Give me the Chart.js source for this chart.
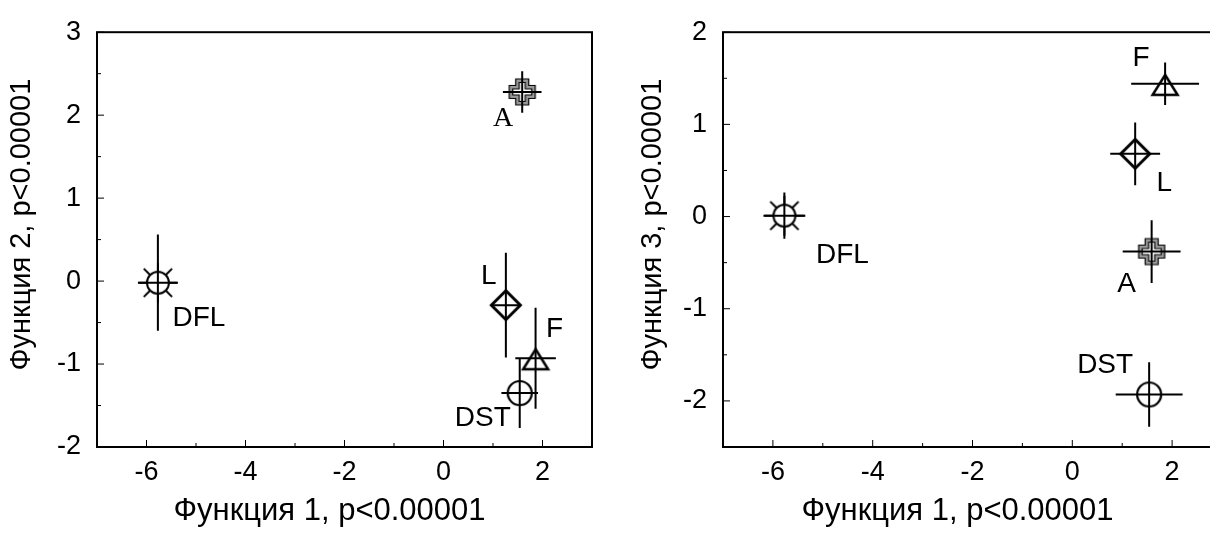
<!DOCTYPE html>
<html>
<head>
<meta charset="utf-8">
<script src="https://cdn.jsdelivr.net/npm/chart.js@4.4.0/dist/chart.umd.min.js"></script>
<style>
html, body { margin: 0; padding: 0; background: #fff; overflow: hidden; }
#wrap { position: relative; width: 1210px; height: 534px; overflow: hidden; }
#c1 { position: absolute; left: 0; top: 0; }
#c2 { position: absolute; left: 610px; top: 0; }
</style>
</head>
<body>
<div id="wrap">
	<canvas id="c1" width="605" height="534"></canvas>
	<canvas id="c2" width="625" height="534"></canvas>
</div>
<script>
// group centroids, discriminant functions
var groups = ['DFL', 'A', 'L', 'F', 'DST'];
var func1 = [-5.77, 1.59, 1.26, 1.86, 1.54];
var func1ErrLeft = [0.39, 0.39, 0.30, 0.41, 0.37];
var func1ErrRight = [0.42, 0.58, 0.50, 0.68, 0.67];
var func2 = [-0.02, 2.28, -0.29, -0.93, -1.35];
var func2Err = [0.58, 0.25, 0.63, 0.61, 0.42];
var func3 = [0.01, -0.38, 0.68, 1.44, -1.93];
var func3Err = [0.25, 0.34, 0.34, 0.23, 0.35];
var xRange = [-7, 3];
var yRangeLeft = [-2, 3];
var yRangeRight = [-2.5, 2];

var FONT = '"Liberation Sans", Arial, sans-serif';
var SERIF = '"Liberation Serif", "Times New Roman", serif';
var TICK_SIZE = 27;
var XTITLE_SIZE = 31;
var YTITLE_SIZE = 29;
var LABEL_SIZE = 28;

// marker glyphs
var makeMarker = function(kind) {
	var c = document.createElement('canvas');
	c.width = 48; c.height = 48;
	var g = c.getContext('2d');
	g.translate(24, 24);
	g.strokeStyle = '#000';
	g.lineJoin = 'miter';
	if (kind === 'sun') {
		g.lineWidth = 2;
		for (var k = 0; k < 8; k++) {
			var a = k * Math.PI / 4;
			g.beginPath();
			g.moveTo(Math.cos(a) * 11, Math.sin(a) * 11);
			g.lineTo(Math.cos(a) * 20, Math.sin(a) * 20);
			g.stroke();
		}
		g.beginPath();
		g.arc(0, 0, 11, 0, Math.PI * 2);
		g.fillStyle = '#fff';
		g.fill();
		g.stroke();
	} else if (kind === 'cross') {
		var crossPath = function(a, b) {
			g.beginPath();
			g.moveTo(-b, -a); g.lineTo(b, -a); g.lineTo(b, -b); g.lineTo(a, -b);
			g.lineTo(a, b); g.lineTo(b, b); g.lineTo(b, a); g.lineTo(-b, a);
			g.lineTo(-b, b); g.lineTo(-a, b); g.lineTo(-a, -b); g.lineTo(-b, -b);
			g.closePath();
		};
		g.lineWidth = 1.2;
		crossPath(13, 6.5);
		g.fillStyle = '#9a9a9a';
		g.fill();
		g.stroke();
		crossPath(9.5, 3);
		g.fillStyle = '#fff';
		g.fill();
		g.stroke();
	} else if (kind === 'diamond') {
		g.lineWidth = 3;
		g.beginPath();
		g.moveTo(0, -14.5); g.lineTo(14.5, 0); g.lineTo(0, 14.5); g.lineTo(-14.5, 0);
		g.closePath();
		g.fillStyle = '#fff';
		g.fill();
		g.stroke();
	} else if (kind === 'triangle') {
		g.lineWidth = 2.5;
		g.beginPath();
		g.moveTo(0, -9); g.lineTo(12.5, 11); g.lineTo(-12.5, 11);
		g.closePath();
		g.fillStyle = '#fff';
		g.fill();
		g.stroke();
	} else {
		g.lineWidth = 2.2;
		g.beginPath();
		g.arc(0, 0, 12, 0, Math.PI * 2);
		g.fillStyle = '#fff';
		g.fill();
		g.stroke();
	}
	return c;
};

var markers = {
	DFL: makeMarker('sun'),
	A: makeMarker('cross'),
	L: makeMarker('diamond'),
	F: makeMarker('triangle'),
	DST: makeMarker('circle')
};

// label offsets from the centroid, px
var labelOffsetLeft = {DFL: [41, 36], A: [-19, 27], L: [-17, -29], F: [19, -29], DST: [-37, 25]};
var labelOffsetRight = {DFL: [58, 40], A: [-25, 33], L: [29, 29], F: [-24, -26], DST: [-44, -29]};

var framePlugin = {
	id: 'frame',
	afterDatasetsDraw: function(chart) {
		var ctx = chart.ctx, area = chart.chartArea;
		var xs = chart.scales.x, ys = chart.scales.y;
		var cfg = chart.options.plugins.frame;
		ctx.save();

		// error bars
		ctx.strokeStyle = '#000';
		ctx.lineWidth = 2;
		chart.data.datasets.forEach(function(ds) {
			ds.data.forEach(function(p, i) {
				var px = xs.getPixelForValue(p.x), py = ys.getPixelForValue(p.y);
				ctx.beginPath();
				ctx.moveTo(xs.getPixelForValue(p.x - ds.errX[i]), py);
				ctx.lineTo(xs.getPixelForValue(p.x + ds.errX[i]), py);
				ctx.moveTo(px, ys.getPixelForValue(p.y + ds.errY[i]));
				ctx.lineTo(px, ys.getPixelForValue(p.y - ds.errY[i]));
				ctx.stroke();

				// group label
				var off = cfg.offsets[ds.label];
				ctx.fillStyle = '#000';
				ctx.textAlign = 'center';
				ctx.textBaseline = 'middle';
				ctx.font = LABEL_SIZE + 'px ' + (ds.label === 'A' && cfg.serifA ? SERIF : FONT);
				ctx.fillText(ds.label, px + off[0], py + off[1]);
			});
		});

		// frame
		ctx.lineWidth = 2;
		ctx.strokeRect(area.left, area.top, area.right - area.left, area.bottom - area.top);

		// inward tick marks
		ctx.lineWidth = 1;
		ctx.beginPath();
		xs.ticks.forEach(function(t) {
			var x = xs.getPixelForValue(t.value);
			var len = t.label !== '' ? 7 : 4;
			ctx.moveTo(x, area.bottom);
			ctx.lineTo(x, area.bottom - len);
		});
		ys.ticks.forEach(function(t) {
			var y = ys.getPixelForValue(t.value);
			var len = t.label !== '' ? 7 : 4;
			ctx.moveTo(area.left, y);
			ctx.lineTo(area.left + len, y);
		});
		ctx.stroke();

		// axis titles
		ctx.textAlign = 'center';
		ctx.textBaseline = 'middle';
		ctx.font = XTITLE_SIZE + 'px ' + FONT;
		ctx.fillText(cfg.xTitle, (area.left + area.right) / 2 - 15, area.bottom + 64);
		ctx.font = YTITLE_SIZE + 'px ' + FONT;
		ctx.translate(area.left - cfg.yTitleGap, (area.top + area.bottom) / 2 - 15);
		ctx.rotate(-Math.PI / 2);
		ctx.fillText(cfg.yTitle, 0, 0);
		ctx.restore();
	}
};

var buildChart = function(id, yVals, yErr, xErr, yRange, yStep, yTitle, yTitleGap, yAxisWidth, rightPad, offsets, serifA) {
	var datasets = groups.map(function(g, i) {
		return {
			label: g,
			data: [{x: func1[i], y: yVals[i]}],
			errX: [xErr[i]],
			errY: [yErr[i]],
			pointStyle: markers[g],
			pointRadius: 12
		};
	});
	return new Chart(document.getElementById(id), {
		type: 'scatter',
		data: { datasets: datasets },
		options: {
			responsive: false,
			animation: false,
			layout: { padding: { top: 24, right: rightPad, left: 0, bottom: 0 } },
			plugins: {
				legend: { display: false },
				tooltip: { enabled: false },
				frame: { xTitle: 'Функция 1, p<0.00001', yTitle: yTitle, yTitleGap: yTitleGap, offsets: offsets, serifA: serifA }
			},
			scales: {
				x: {
					type: 'linear',
					min: xRange[0], max: xRange[1],
					grid: { display: false, drawTicks: false },
					border: { display: false },
					ticks: {
						stepSize: 1, autoSkip: false, maxRotation: 0, padding: 9,
						color: '#000', font: { family: FONT, size: TICK_SIZE },
						callback: function(v) { return v % 2 === 0 ? String(v) : ''; }
					},
					afterFit: function(s) { s.height = 87; }
				},
				y: {
					type: 'linear',
					min: yRange[0], max: yRange[1],
					grid: { display: false, drawTicks: false },
					border: { display: false },
					ticks: {
						stepSize: yStep, autoSkip: false, padding: 16,
						color: '#000', font: { family: FONT, size: TICK_SIZE },
						callback: function(v) { return Number.isInteger(v) ? String(v) : ''; }
					},
					afterFit: function(s) { s.width = yAxisWidth; }
				}
			}
		},
		plugins: [framePlugin]
	});
};

buildChart('c1', func2, func2Err, func1ErrLeft, yRangeLeft, 0.5, 'Функция 2, p<0.00001', 75, 97, 8, labelOffsetLeft, true);
buildChart('c2', func3, func3Err, func1ErrRight, yRangeRight, 0.5, 'Функция 3, p<0.00001', 70, 113, 12, labelOffsetRight, false);
</script>
</body>
</html>
